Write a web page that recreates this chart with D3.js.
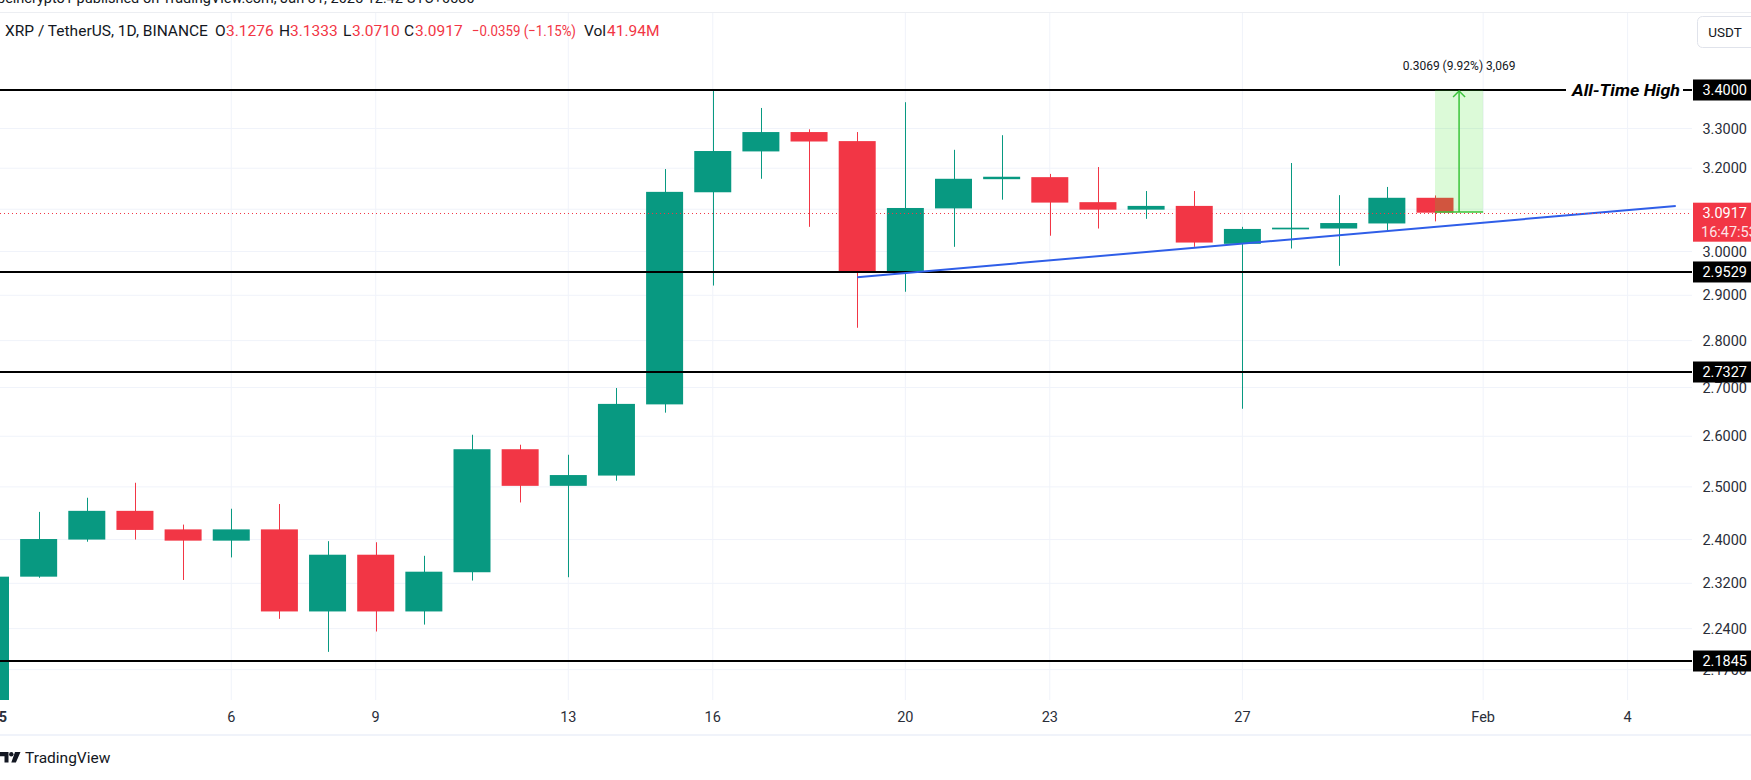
<!DOCTYPE html>
<html>
<head>
<meta charset="utf-8">
<script src="https://cdn.jsdelivr.net/npm/d3@7"></script>
<style>
  body { margin: 0; background: #ffffff; }
  svg { display: block; }
  text { font-family: Roboto, "Noto Sans", sans-serif; }
</style>
</head>
<body>
<script>
// XRP / TetherUS daily candles, January 2025
const dates = ["2025-01-01","2025-01-02","2025-01-03","2025-01-04","2025-01-05","2025-01-06","2025-01-07",
  "2025-01-08","2025-01-09","2025-01-10","2025-01-11","2025-01-12","2025-01-13","2025-01-14","2025-01-15",
  "2025-01-16","2025-01-17","2025-01-18","2025-01-19","2025-01-20","2025-01-21","2025-01-22","2025-01-23",
  "2025-01-24","2025-01-25","2025-01-26","2025-01-27","2025-01-28","2025-01-29","2025-01-30","2025-01-31"]
const opens  = [2.081, 2.332, 2.400, 2.454, 2.419, 2.398, 2.419, 2.270, 2.372, 2.270, 2.340, 2.574, 2.502, 2.522, 2.665,
  3.141, 3.242, 3.291, 3.268, 2.955, 3.102, 3.173, 3.178, 3.117, 3.099, 3.108, 3.018, 3.052, 3.054, 3.066, 3.1276]
const highs  = [2.364, 2.452, 2.479, 2.508, 2.428, 2.458, 2.467, 2.397, 2.395, 2.370, 2.603, 2.583, 2.563, 2.699, 3.198,
  3.398, 3.353, 3.298, 3.291, 3.368, 3.246, 3.283, 3.186, 3.203, 3.144, 3.144, 3.058, 3.213, 3.134, 3.154, 3.1333]
const lows   = [2.065, 2.330, 2.396, 2.400, 2.326, 2.367, 2.257, 2.200, 2.235, 2.247, 2.325, 2.470, 2.331, 2.512, 2.648,
  2.922, 3.174, 3.058, 2.828, 2.908, 3.011, 3.123, 3.037, 3.054, 3.077, 3.011, 2.656, 3.007, 2.967, 3.050, 3.0710]
const closes = [2.332, 2.401, 2.454, 2.418, 2.398, 2.419, 2.270, 2.372, 2.270, 2.341, 2.574, 2.502, 2.523, 2.666, 3.142,
  3.243, 3.291, 3.267, 2.955, 3.103, 3.174, 3.179, 3.116, 3.099, 3.108, 3.021, 3.053, 3.056, 3.067, 3.1276, 3.0917]
const volumeLabel = "41.94M"

const priceTicks = [3.4, 3.3, 3.2, 3.1, 3.0, 2.9, 2.8, 2.7, 2.6, 2.5, 2.4, 2.32, 2.24, 2.17]
const dateTicks = ["2025-01-01","2025-01-06","2025-01-09","2025-01-13","2025-01-16","2025-01-20","2025-01-23",
  "2025-01-27","2025-02-01","2025-02-04"]
const dateTickLabels = ["2025","6","9","13","16","20","23","27","Feb","4"]

const levels = [3.4, 2.9529, 2.7327, 2.1845]
const trendDates = ["2025-01-19","2025-02-05"]
const trendPrices = [2.941, 3.108]
const measureDates = ["2025-01-31","2025-02-01"]
const measurePrices = [3.0931, 3.4]

const width = 1751, height = 780
const plotRight = 1692, plotTop = 12, plotBottom = 700
const up = "#089981", down = "#f23645"

const parse = d3.utcParse("%Y-%m-%d")
const f4 = d3.format(".4f")

const candles = dates.map((d, i) => ({date: parse(d), o: opens[i], h: highs[i], l: lows[i], c: closes[i]}))

const x = d3.scaleUtc()
  .domain([parse("2025-01-01"), parse("2025-02-05")])
  .range([-9.5, -9.5 + 48.15 * 35])
const y = d3.scaleLog()
  .domain([2.1845, 3.4])
  .range([661, 90])
const bodyW = 37

const svg = d3.select("body").append("svg")
  .attr("width", width).attr("height", height)

svg.append("rect").attr("width", width).attr("height", height).attr("fill", "#ffffff")

svg.append("defs").append("clipPath").attr("id", "plot")
  .append("rect").attr("x", 0).attr("y", plotTop).attr("width", plotRight).attr("height", plotBottom - plotTop)

// grid
const grid = svg.append("g")
grid.selectAll(".hg").data(priceTicks).join("line")
  .attr("x1", 0).attr("x2", plotRight)
  .attr("y1", d => y(d)).attr("y2", d => y(d))
  .attr("stroke", "#f0f3fa").attr("stroke-width", 1)
grid.selectAll(".vg").data(dateTicks).join("line")
  .attr("x1", d => x(parse(d))).attr("x2", d => x(parse(d)))
  .attr("y1", plotTop).attr("y2", plotBottom)
  .attr("stroke", "#f0f3fa").attr("stroke-width", 1)

const plot = svg.append("g").attr("clip-path", "url(#plot)")

// candles
const cg = plot.selectAll(".candle").data(candles).join("g")
  .attr("fill", d => d.c >= d.o ? up : down)
  .attr("stroke", d => d.c >= d.o ? up : down)
cg.append("line")
  .attr("x1", d => Math.round(x(d.date)) + 0.5).attr("x2", d => Math.round(x(d.date)) + 0.5)
  .attr("y1", d => y(d.h)).attr("y2", d => y(d.l))
  .attr("stroke-width", 1)
cg.append("rect")
  .attr("stroke", "none")
  .attr("x", d => x(d.date) - bodyW / 2)
  .attr("width", bodyW)
  .attr("y", d => y(Math.max(d.o, d.c)))
  .attr("height", d => Math.max(1, Math.abs(y(d.o) - y(d.c))))

// horizontal levels
plot.selectAll(".lvl").data(levels).join("line")
  .attr("x1", 0).attr("x2", plotRight)
  .attr("y1", d => y(d)).attr("y2", d => y(d))
  .attr("stroke", "#000000").attr("stroke-width", 2)

// rising trend line
plot.append("line")
  .attr("x1", x(parse(trendDates[0]))).attr("y1", y(trendPrices[0]))
  .attr("x2", x(parse(trendDates[1]))).attr("y2", y(trendPrices[1]))
  .attr("stroke", "#2f5ee8").attr("stroke-width", 2)

// last price dotted line
const last = closes[closes.length - 1]
plot.append("line")
  .attr("x1", 0).attr("x2", plotRight)
  .attr("y1", Math.round(y(last)) + 0.5).attr("y2", Math.round(y(last)) + 0.5)
  .attr("stroke", down).attr("stroke-width", 1).attr("stroke-dasharray", "1,3")

// measure box
const mx0 = x(parse(measureDates[0])), mx1 = x(parse(measureDates[1]))
const my0 = y(measurePrices[0]), my1 = y(measurePrices[1])
const mMid = (mx0 + mx1) / 2
plot.append("rect")
  .attr("x", mx0).attr("y", my1).attr("width", mx1 - mx0).attr("height", my0 - my1)
  .attr("fill", "rgba(60, 230, 40, 0.18)")
plot.append("line")
  .attr("x1", mx0).attr("x2", mx1).attr("y1", my0).attr("y2", my0)
  .attr("stroke", "#3ac43a").attr("stroke-width", 1.5)
plot.append("line")
  .attr("x1", mMid).attr("x2", mMid).attr("y1", my0).attr("y2", my1 + 1)
  .attr("stroke", "#3ac43a").attr("stroke-width", 1.5)
plot.append("path")
  .attr("d", `M${mMid - 6},${my1 + 7}L${mMid},${my1 + 1}L${mMid + 6},${my1 + 7}`)
  .attr("fill", "none").attr("stroke", "#3ac43a").attr("stroke-width", 1.5)
const diff = measurePrices[1] - measurePrices[0]
svg.append("text")
  .attr("x", mMid).attr("y", 70)
  .attr("text-anchor", "middle").attr("font-size", 12).attr("fill", "#131722")
  .text(`${f4(diff)} (${d3.format(".2f")(diff / measurePrices[0] * 100)}%) ${d3.format(",")(Math.round(diff * 10000))}`)

// all-time high label on the top level
svg.append("rect")
  .attr("x", 1566).attr("y", y(3.4) - 2).attr("width", 117).attr("height", 4).attr("fill", "#ffffff")
svg.append("text")
  .attr("x", 1572).attr("y", y(3.4)).attr("dy", "0.36em")
  .attr("font-family", "'DejaVu Sans', sans-serif")
  .attr("font-weight", "bold").attr("font-style", "italic").attr("font-size", 16.5)
  .attr("textLength", 108).attr("lengthAdjust", "spacingAndGlyphs")
  .attr("fill", "#000000")
  .text("All-Time High")

// price axis labels
svg.selectAll(".pt").data(priceTicks).join("text")
  .attr("x", 1747).attr("y", d => y(d)).attr("dy", "0.35em")
  .attr("text-anchor", "end").attr("font-size", 14.5).attr("fill", "#2a2e39")
  .text(d => f4(d))

// level badges
const badges = svg.selectAll(".badge").data(levels).join("g")
  .attr("transform", d => `translate(1693,${y(d)})`)
badges.append("rect").attr("x", 0).attr("y", -10.5).attr("width", 60).attr("height", 21).attr("fill", "#000000")
badges.append("text")
  .attr("x", 54).attr("dy", "0.35em").attr("text-anchor", "end")
  .attr("font-size", 14.5).attr("fill", "#ffffff")
  .text(d => f4(d))

// last price badge
const lb = svg.append("g").attr("transform", `translate(1693,${y(last)})`)
lb.append("rect").attr("x", 0).attr("y", -10).attr("width", 60).attr("height", 39).attr("fill", down)
lb.append("text").attr("x", 54).attr("y", 0).attr("dy", "0.35em").attr("text-anchor", "end")
  .attr("font-size", 14.5).attr("fill", "#ffffff").text(f4(last))
lb.append("text").attr("x", 8).attr("y", 19).attr("dy", "0.35em")
  .attr("font-size", 14.5).attr("fill", "#fde4e6").text("16:47:53")

// date axis
svg.selectAll(".dt").data(dateTicks).join("text")
  .attr("x", d => x(parse(d))).attr("y", 722)
  .attr("text-anchor", "middle").attr("font-size", 14.5).attr("fill", "#2a2e39")
  .attr("font-weight", (d, i) => dateTickLabels[i] === "2025" ? "bold" : "normal")
  .text((d, i) => dateTickLabels[i])

svg.append("line").attr("x1", 0).attr("x2", width).attr("y1", 735).attr("y2", 735)
  .attr("stroke", "#f0f3fa").attr("stroke-width", 2)
svg.append("line").attr("x1", 0).attr("x2", width).attr("y1", 12.5).attr("y2", 12.5)
  .attr("stroke", "#eceef2").attr("stroke-width", 1)

// header
svg.append("text").attr("x", -3).attr("y", 3).attr("font-size", 14.5).attr("fill", "#131722")
  .text("beincrypto1 published on TradingView.com, Jan 31, 2025 12:42 UTC+0530")

const n = closes.length - 1
const chg = closes[n] - closes[n - 1]
const headerParts = [
  {t: "XRP / TetherUS, 1D, BINANCE", x: 5, w: null, c: "#131722"},
  {t: "O", x: 215, w: null, c: "#131722"}, {t: f4(opens[n]), x: 226, w: null, c: down},
  {t: "H", x: 279, w: null, c: "#131722"}, {t: f4(highs[n]), x: 290, w: null, c: down},
  {t: "L", x: 343, w: null, c: "#131722"}, {t: f4(lows[n]), x: 352, w: null, c: down},
  {t: "C", x: 404, w: null, c: "#131722"}, {t: f4(closes[n]), x: 415, w: null, c: down},
  {t: `${f4(chg)} (${d3.format(".2f")(chg / closes[n - 1] * 100)}%)`, x: 472, w: 104, c: down},
  {t: "Vol", x: 584, w: null, c: "#131722"}, {t: volumeLabel, x: 607, w: null, c: down}
]
svg.selectAll(".hd").data(headerParts).join("text")
  .attr("x", d => d.x).attr("y", 36)
  .attr("font-size", 15.5).attr("fill", d => d.c)
  .attr("textLength", d => d.w)
  .attr("lengthAdjust", d => d.w ? "spacingAndGlyphs" : null)
  .text(d => d.t)

// unit button
svg.append("rect").attr("x", 1697.5).attr("y", 16.5).attr("width", 62).attr("height", 31).attr("rx", 5)
  .attr("fill", "#ffffff").attr("stroke", "#e0e3eb")
svg.append("text").attr("x", 1725).attr("y", 32).attr("dy", "0.35em").attr("text-anchor", "middle")
  .attr("font-size", 13.5).attr("fill", "#131722").text("USDT")

// TradingView mark
svg.append("path")
  .attr("d", "M0,752h8.5v10.5h-4v-6.3h-4.5z M15,752h5.5l-4.6,10.5h-4.6z")
  .attr("fill", "#131722")
svg.append("circle").attr("cx", 11.3).attr("cy", 754.3).attr("r", 2.2).attr("fill", "#131722")
svg.append("text").attr("x", 25).attr("y", 762.5).attr("font-size", 15.5).attr("fill", "#131722")
  .text("TradingView")
</script>
</body>
</html>
